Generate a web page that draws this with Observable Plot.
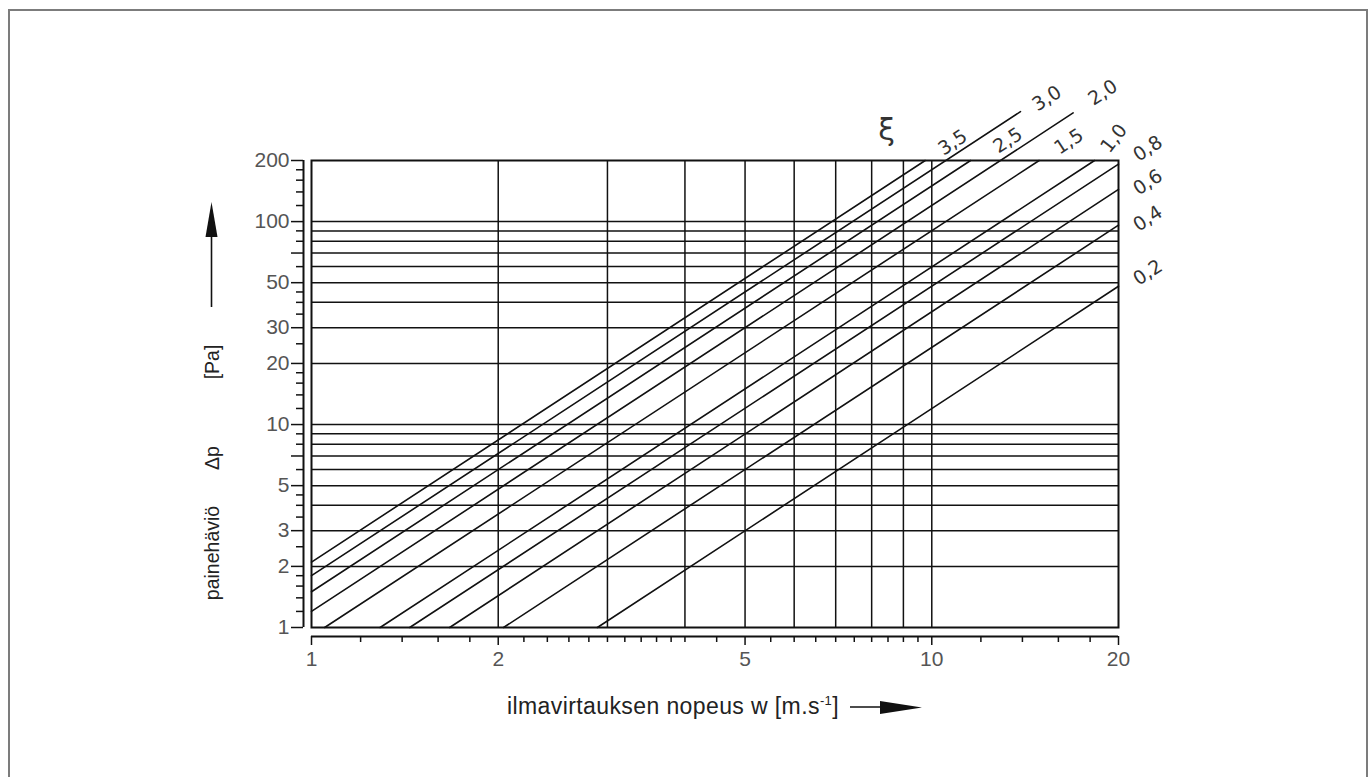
<!DOCTYPE html>
<html>
<head>
<meta charset="utf-8">
<script src="https://cdn.jsdelivr.net/npm/d3@7"></script>
<script src="https://cdn.jsdelivr.net/npm/@observablehq/plot@0.6"></script>
<style>
  html, body { margin: 0; padding: 0; background: #fff; }
  #wrap { position: relative; width: 1372px; height: 777px; overflow: hidden; }
  #border { position: absolute; left: 8px; top: 9px; width: 1356px; height: 800px;
            border: 2px solid #7c7c7c; border-bottom: none; pointer-events: none; }
</style>
</head>
<body>
<div id="wrap"><div id="border"></div></div>
<script>
// ---- data ----
// loss coefficients ξ
const xi     = [0.2, 0.4, 0.6, 0.8, 1.0, 1.5, 2.0, 2.5, 3.0, 3.5];
// start point of each line (air speed w [m/s], pressure loss Δp [Pa])
const wStart = [2.89, 2.04, 1.67, 1.44, 1.29, 1.05, 1.0, 1.0, 1.0, 1.0];
const pStart = [1, 1, 1, 1, 1, 1, 1.2, 1.5, 1.8, 2.1];
// end point of each line
const wEnd   = [20, 20, 20, 20, 18.3, 14.9, 16.9, 11.55, 13.9, 9.76];
const pEnd   = [48, 96, 144, 192, 200, 200, 343, 200, 348, 200];

// curve labels
const labelText = ["ξ", "3,5", "2,5", "1,5", "1,0", "3,0", "2,0", "0,8", "0,6", "0,4", "0,2"];
const labelW    = [8.46, 10.81, 13.26, 16.63, 19.66, 15.33, 18.87, 22.3, 22.3, 22.3, 22.3];
const labelP    = [281, 245, 251, 248, 257, 404, 432, 229, 156, 103.5, 56.1];

// axes
const xTickLabels = [1, 2, 5, 10, 20];
const xMinorTicks = [1.2, 1.4, 1.6, 1.8, 2.2, 2.4, 2.6, 2.8, 3, 3.2, 3.4, 3.6, 3.8, 4, 4.5,
                     5.5, 6, 6.5, 7, 7.5, 8, 8.5, 9, 9.5, 12, 14, 16, 18];
const yTickLabels = [1, 2, 3, 5, 7, 10, 20, 30, 50, 70, 100, 200];
const yMinorTicks = [1.2, 1.4, 1.6, 1.8, 2.5, 3.5, 4, 4.5, 6, 8, 9, 12, 14, 16, 18, 25, 35, 40, 45,
                     60, 80, 90, 120, 140, 160, 180];
const xGrid = [2, 3, 4, 5, 6, 7, 8, 9, 10];
const yGrid = [2, 3, 4, 5, 6, 7, 8, 9, 10, 20, 30, 40, 50, 60, 70, 80, 90, 100];

const yLabelParts = ["painehäviö", "Δp", "[Pa]"];
const xLabelMain = "ilmavirtauksen nopeus w [m.s";
const xLabelSup = "-1";
const xLabelEnd = "]";

// ---- build tables ----
const lineRows = [];
xi.forEach((k, i) => {
  lineRows.push({xi: k, w: wStart[i], p: pStart[i]});
  lineRows.push({xi: k, w: wEnd[i], p: pEnd[i]});
});
const labelRows = labelText.map((t, i) => ({t, w: labelW[i], p: labelP[i]}));

const tickFont = "Liberation Sans, Arial, sans-serif";
const ink = "#111";

const svg = Plot.plot({
  width: 1372,
  height: 777,
  marginLeft: 311,
  marginRight: 254,
  marginTop: 160,
  marginBottom: 150,
  x: {type: "log", domain: [1, 20]},
  y: {type: "log", domain: [1, 200]},
  style: {background: "transparent", fontFamily: tickFont},
  marks: [
    Plot.gridX(xGrid, {stroke: ink, strokeOpacity: 1, strokeWidth: 1.5}),
    Plot.gridY(yGrid, {stroke: ink, strokeOpacity: 1, strokeWidth: 1.5}),
    Plot.frame({stroke: ink, strokeWidth: 2}),
    Plot.line(lineRows, {x: "w", y: "p", z: "xi", stroke: ink, strokeWidth: 1.6}),
    // separate axis lines
    Plot.ruleX([1], {dx: -8, stroke: ink, strokeWidth: 2}),
    Plot.ruleY([1], {dy: 9, stroke: ink, strokeWidth: 2}),
    // x axis ticks
    Plot.axisX(xMinorTicks, {anchor: "bottom", dy: 9, tickSize: 6, tickFormat: () => "", label: null, stroke: ink, strokeWidth: 1.5}),
    Plot.axisX(xTickLabels, {anchor: "bottom", dy: 9, tickSize: 9, tickPadding: 6, tickFormat: d => String(d),
      label: null, stroke: ink, strokeWidth: 1.5, fill: "#555", fontSize: 21, fontFamily: tickFont}),
    // y axis ticks
    Plot.axisY(yMinorTicks, {anchor: "left", dx: -8, tickSize: 7, tickFormat: () => "", label: null, stroke: ink, strokeWidth: 1.5}),
    Plot.axisY(yTickLabels, {anchor: "left", dx: -8, tickSize: 12, tickPadding: 2, tickFormat: d => String(d),
      label: null, stroke: ink, strokeWidth: 1.5, fill: "#555", fontSize: 21, fontFamily: tickFont}),
    // curve labels
    Plot.text(labelRows, {x: "w", y: "p", text: "t",
      rotate: d => d.t === "ξ" ? 0 : (d.t === "1,0" ? -52 : -33),
      fontSize: d => d.t === "ξ" ? 30 : 19,
      fill: "#333", fontFamily: "DejaVu Sans, sans-serif"}),
  ]
});

document.getElementById("wrap").prepend(svg);
svg.style.position = "absolute";
svg.style.left = "0px";
svg.style.top = "0px";

const s = d3.select(svg);
// y axis title (rotated)
const yCenters = [553, 458, 362];
yLabelParts.forEach((t, i) => {
  s.append("text")
    .attr("transform", `translate(219,${yCenters[i]}) rotate(-90)`)
    .attr("text-anchor", "middle")
    .attr("font-family", tickFont)
    .attr("font-size", 19.5)
    .attr("fill", "#222")
    .text(t);
});
// y arrow
s.append("line").attr("x1", 211.5).attr("x2", 211.5).attr("y1", 307).attr("y2", 232)
  .attr("stroke", ink).attr("stroke-width", 1.6);
s.append("polygon").attr("points", "205.5,237 211.5,202 217.5,237").attr("fill", ink);

// x axis title
const xt = s.append("text")
  .attr("x", 507).attr("y", 714)
  .attr("text-anchor", "start")
  .attr("font-family", tickFont)
  .attr("font-size", 23)
  .attr("letter-spacing", 0.4)
  .attr("fill", "#222");
xt.append("tspan").text(xLabelMain);
xt.append("tspan").attr("font-size", 13).attr("dy", -9).text(xLabelSup);
xt.append("tspan").attr("dy", 9).text(xLabelEnd);
// x arrow
s.append("line").attr("x1", 850).attr("x2", 884).attr("y1", 707).attr("y2", 707)
  .attr("stroke", ink).attr("stroke-width", 1.6);
s.append("polygon").attr("points", "880,701 922,707.5 880,714").attr("fill", ink);
</script>
</body>
</html>
